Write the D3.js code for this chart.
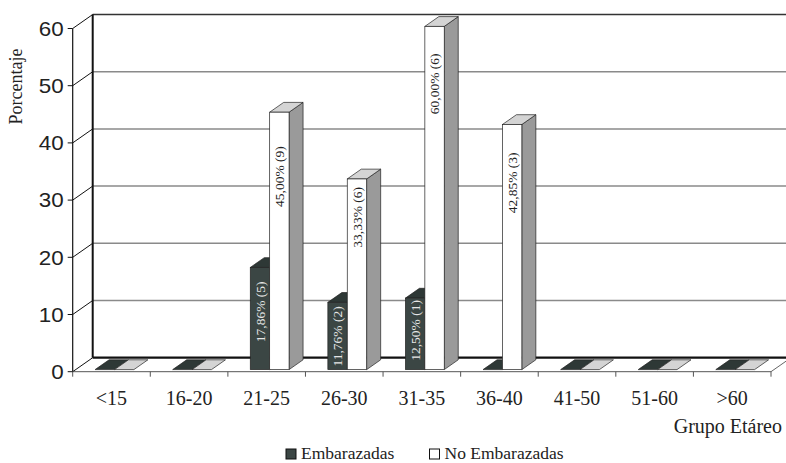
<!DOCTYPE html>
<html>
<head>
<meta charset="utf-8">
<script src="https://cdn.jsdelivr.net/npm/d3@7"></script>
<style>
  html, body { margin: 0; padding: 0; background: #fff; }
  svg { display: block; }
  .serif { font-family: "Liberation Serif", "DejaVu Serif", serif; }
  .sans { font-family: "Liberation Sans", "DejaVu Sans", sans-serif; }
</style>
</head>
<body>
<svg id="chart" width="786" height="463"></svg>
<script>
// Age groups on the category axis
const categories = ["<15", "16-20", "21-25", "26-30", "31-35", "36-40", "41-50", "51-60", ">60"];
// Percentage per age group and the count behind it
const embarazadas = [0, 0, 17.86, 11.76, 12.50, 0, 0, 0, 0];
const embarazadasN = [0, 0, 5, 2, 1, 0, 0, 0, 0];
const noEmbarazadas = [0, 0, 45.00, 33.33, 60.00, 42.85, 0, 0, 0];
const noEmbarazadasN = [0, 0, 9, 6, 6, 3, 0, 0, 0];
const seriesNames = ["Embarazadas", "No Embarazadas"];
const yTicks = [0, 10, 20, 30, 40, 50, 60];

// Distance (px) between a bar's top and the end of its rotated label
const labelGapEmb = [0, 0, 14, 4, 2, 0, 0, 0, 0];
const labelGapNoEmb = [0, 0, 34, 8, 27, 28, 0, 0, 0];

const series = [
  { name: seriesNames[0], values: embarazadas, counts: embarazadasN, gaps: labelGapEmb,
    front: "#3b4644", top: "#2e3836", side: "#252d2b", text: "#e6e6e6" },
  { name: seriesNames[1], values: noEmbarazadas, counts: noEmbarazadasN, gaps: labelGapNoEmb,
    front: "#ffffff", top: "#d4d4d4", side: "#9a9a9a", text: "#222" }
];

const svg = d3.select("#chart");

// Front plane of the 3-D box
const x0 = 72.7, x1 = 771;
const y = d3.scaleLinear().domain([0, 60]).range([371.7, 28.5]);
// Depth of the box (back wall offset)
const DX = 20, DY = -14;
// Bars sit in the middle 70% of the depth
const FO = 0.15, FD = 0.7;

const x = d3.scaleBand().domain(categories).range([x0, x1]).paddingInner(0).paddingOuter(0);
const bw = x.bandwidth();
const xs = d3.scaleBand().domain(seriesNames).range([bw / 4, bw * 3 / 4]).padding(0);

const fmt = d3.formatLocale({ decimal: ",", thousands: ".", grouping: [3], currency: ["", ""] }).format(".2f");

// ---- walls ----
const walls = svg.append("g");
// back wall gridlines
yTicks.forEach(v => {
  if (v === 0) return;
  walls.append("line")
    .attr("x1", x0 + DX).attr("x2", x1 + DX + 20)
    .attr("y1", y(v) + DY).attr("y2", y(v) + DY)
    .attr("stroke", v === 60 ? "#333" : "#8a8a8a")
    .attr("stroke-width", v === 60 ? 1.6 : 1.5);
});
// side wall diagonals
yTicks.forEach(v => {
  walls.append("line")
    .attr("x1", x0).attr("y1", y(v))
    .attr("x2", x0 + DX).attr("y2", y(v) + DY)
    .attr("stroke", "#111").attr("stroke-width", 1);
});
// back wall left edge
walls.append("line")
  .attr("x1", x0 + DX).attr("x2", x0 + DX)
  .attr("y1", y(60) + DY).attr("y2", y(0) + DY)
  .attr("stroke", "#111").attr("stroke-width", 2);
// back floor edge
walls.append("line")
  .attr("x1", x0 + DX).attr("x2", x1 + DX + 20)
  .attr("y1", y(0) + DY).attr("y2", y(0) + DY)
  .attr("stroke", "#111").attr("stroke-width", 2.2);
// front floor edge
walls.append("line")
  .attr("x1", x0).attr("x2", x1)
  .attr("y1", y(0)).attr("y2", y(0))
  .attr("stroke", "#555").attr("stroke-width", 1);
// floor right edge
walls.append("line")
  .attr("x1", x1).attr("y1", y(0))
  .attr("x2", x1 + DX).attr("y2", y(0) + DY)
  .attr("stroke", "#666").attr("stroke-width", 1);

// ---- value axis ----
const yAxis = svg.append("g");
yAxis.append("line")
  .attr("x1", x0).attr("x2", x0)
  .attr("y1", y(60)).attr("y2", y(0))
  .attr("stroke", "#111").attr("stroke-width", 1.2);
yTicks.forEach(v => {
  yAxis.append("line")
    .attr("x1", x0 - 5).attr("x2", x0)
    .attr("y1", y(v)).attr("y2", y(v))
    .attr("stroke", "#111").attr("stroke-width", 1);
  yAxis.append("text")
    .attr("class", "sans")
    .attr("transform", `translate(${x0 - 9},${y(v)}) scale(1.12,1)`)
    .attr("text-anchor", "end")
    .attr("dy", "0.36em")
    .attr("font-size", 20)
    .attr("fill", "#222")
    .text(v);
});
svg.append("text")
  .attr("class", "serif")
  .attr("transform", "translate(22,86.5) rotate(-90)")
  .attr("text-anchor", "middle")
  .attr("font-size", 18)
  .attr("fill", "#222")
  .text("Porcentaje");

// ---- category axis ----
const xAxis = svg.append("g");
const edges = categories.map(c => x(c)).concat([x1]);
edges.forEach(e => {
  xAxis.append("line")
    .attr("x1", e).attr("x2", e)
    .attr("y1", y(0)).attr("y2", y(0) + 5)
    .attr("stroke", "#555").attr("stroke-width", 1);
});
categories.forEach(c => {
  xAxis.append("text")
    .attr("class", "serif")
    .attr("x", x(c) + bw / 2).attr("y", 405)
    .attr("text-anchor", "middle")
    .attr("font-size", 20)
    .attr("fill", "#222")
    .text(c);
});
svg.append("text")
  .attr("class", "serif")
  .attr("x", 782).attr("y", 433)
  .attr("text-anchor", "end")
  .attr("font-size", 20)
  .attr("fill", "#222")
  .text("Grupo Etáreo");

// ---- bars ----
const bars = svg.append("g");
const ox = FO * DX, oy = FO * DY, dx = FD * DX, dy = FD * DY;
const poly = pts => "M" + pts.map(p => p.join(",")).join("L") + "Z";

categories.forEach((c, i) => {
  series.forEach(s => {
    const v = s.values[i];
    const left = x(c) + xs(s.name) + ox;
    const right = left + xs.bandwidth();
    const yb = y(0) + oy;
    const yt = y(v) + oy;
    const g = bars.append("g");
    if (v > 0) {
      g.append("path")
        .attr("d", poly([[right, yt], [right + dx, yt + dy], [right + dx, yb + dy], [right, yb]]))
        .attr("fill", s.side).attr("stroke", "#222").attr("stroke-width", 0.7);
    }
    g.append("path")
      .attr("d", poly([[left, yt], [right, yt], [right + dx, yt + dy], [left + dx, yt + dy]]))
      .attr("fill", s.top).attr("stroke", "#222").attr("stroke-width", 0.7);
    if (v > 0) {
      g.append("rect")
        .attr("x", left).attr("y", yt)
        .attr("width", right - left).attr("height", yb - yt)
        .attr("fill", s.front).attr("stroke", "#222").attr("stroke-width", 0.7);
      g.append("text")
        .attr("class", "serif")
        .attr("transform", `translate(${(left + right) / 2},${yt + s.gaps[i]}) rotate(-90)`)
        .attr("text-anchor", "end")
        .attr("dy", "0.35em")
        .attr("font-size", 13.5)
        .attr("fill", s.text)
        .text(`${fmt(v)}% (${s.counts[i]})`);
    }
  });
});

// ---- legend ----
const legend = svg.append("g");
const legendItems = [
  { name: seriesNames[0], fill: "#3b4644", x: 286 },
  { name: seriesNames[1], fill: "#ffffff", x: 429.5 }
];
legendItems.forEach(d => {
  legend.append("rect")
    .attr("x", d.x).attr("y", 449)
    .attr("width", 10).attr("height", 10)
    .attr("fill", d.fill).attr("stroke", "#111").attr("stroke-width", 1);
  legend.append("text")
    .attr("class", "serif")
    .attr("x", d.x + 15).attr("y", 459)
    .attr("font-size", 17.5)
    .attr("fill", "#222")
    .text(d.name);
});
</script>
</body>
</html>
